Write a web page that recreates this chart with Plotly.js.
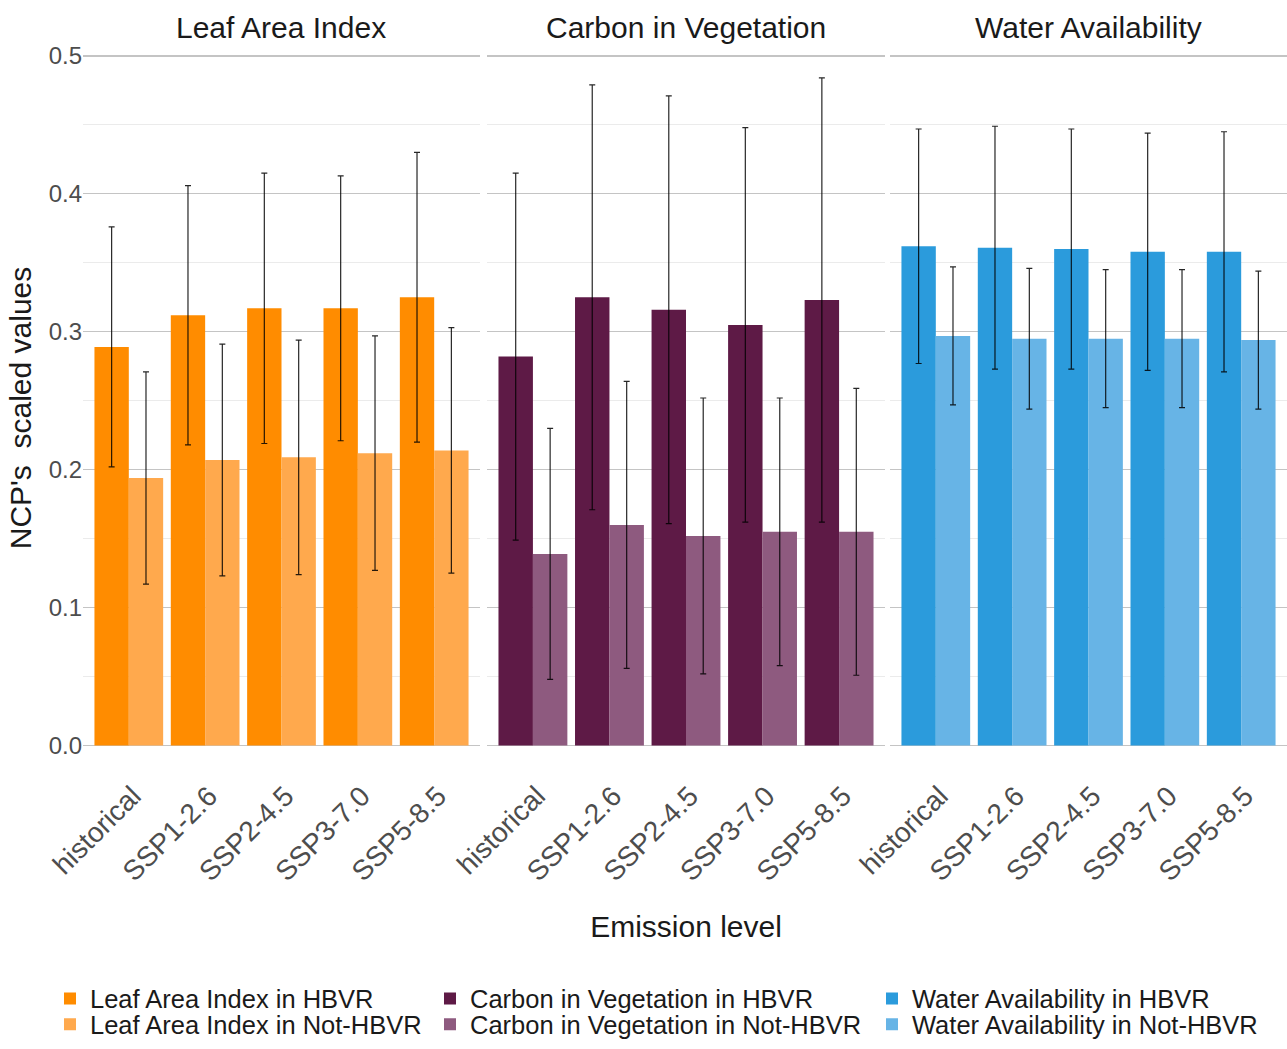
<!DOCTYPE html>
<html>
<head>
<meta charset="utf-8">
<script src="https://cdn.plot.ly/plotly-3.0.1.min.js"></script>
<style>html,body{margin:0;padding:0;background:#fff;}</style>
</head>
<body>
<div id="chart" style="width:1287px;height:1049px;"></div>
<script>
const categories = ['historical', 'SSP1-2.6', 'SSP2-4.5', 'SSP3-7.0', 'SSP5-8.5'];
const facetTitles = ['Leaf Area Index', 'Carbon in Vegetation', 'Water Availability'];

const laiHBVR = [0.289, 0.312, 0.317, 0.317, 0.325];
const laiHBVRsd = [0.087, 0.094, 0.098, 0.096, 0.105];
const laiNot = [0.194, 0.207, 0.209, 0.212, 0.214];
const laiNotSd = [0.077, 0.084, 0.085, 0.085, 0.089];

const cvHBVR = [0.282, 0.325, 0.316, 0.305, 0.323];
const cvHBVRsd = [0.133, 0.154, 0.155, 0.143, 0.161];
const cvNot = [0.139, 0.160, 0.152, 0.155, 0.155];
const cvNotSd = [0.091, 0.104, 0.100, 0.097, 0.104];

const waHBVR = [0.362, 0.361, 0.360, 0.358, 0.358];
const waHBVRsd = [0.085, 0.088, 0.087, 0.086, 0.087];
const waNot = [0.297, 0.295, 0.295, 0.295, 0.294];
const waNotSd = [0.050, 0.051, 0.050, 0.050, 0.050];

const FONT = 'Liberation Sans, Arial, sans-serif';

const W = 1287, H = 1049;
const ml = 83, mt = 48.6, mb = 276;
const pw = W - ml, ph = H - mt - mb;
function px2x(p) { return (p - ml) / pw; }
function px2y(p) { return (H - mb - p) / ph; }
function dom(a, b) { return [px2x(a), px2x(b)]; }

function bar(name, y, sd, color, xa, leg) {
  return {
    type: 'bar', name: name, x: categories, y: y,
    xaxis: xa, yaxis: 'y', legend: leg,
    marker: {color: color, line: {width: 0}},
    error_y: {type: 'data', array: sd, visible: true, color: 'rgba(0,0,0,0.85)', thickness: 1.2, width: 3},
    hoverinfo: 'x+y'
  };
}

const data = [
  bar('Leaf Area Index in HBVR', laiHBVR, laiHBVRsd, '#FF8C00', 'x', 'legend'),
  bar('Leaf Area Index in Not-HBVR', laiNot, laiNotSd, '#FFA94D', 'x', 'legend2'),
  bar('Carbon in Vegetation in HBVR', cvHBVR, cvHBVRsd, '#5E1A46', 'x2', 'legend3'),
  bar('Carbon in Vegetation in Not-HBVR', cvNot, cvNotSd, '#8E5A7F', 'x2', 'legend4'),
  bar('Water Availability in HBVR', waHBVR, waHBVRsd, '#2B9BDC', 'x3', 'legend5'),
  bar('Water Availability in Not-HBVR', waNot, waNotSd, '#67B4E6', 'x3', 'legend6')
];

const xCommon = {
  type: 'category', range: [-0.6, 4.6], showgrid: false, zeroline: false, showline: false,
  ticks: '', tickangle: -45, tickfont: {family: FONT, size: 28, color: '#4d4d4d'},
  ticklabelstandoff: 6, ticklabelshift: 4,
  automargin: false, fixedrange: true
};

function legendAt(xpx, ypx) {
  return {
    orientation: 'v', x: px2x(xpx), xanchor: 'left', y: px2y(ypx), yanchor: 'middle',
    font: {family: FONT, size: 25.5, color: '#1a1a1a'}, bgcolor: 'rgba(0,0,0,0)',
    borderwidth: 0, itemclick: false, itemdoubleclick: false
  };
}

const layout = {
  width: W, height: H,
  margin: {l: ml, r: 0, t: mt, b: mb},
  paper_bgcolor: '#fff', plot_bgcolor: '#fff',
  barmode: 'group', bargap: 0.1, bargroupgap: 0,
  font: {family: FONT},
  xaxis: Object.assign({}, xCommon, {domain: dom(83, 480), anchor: 'y'}),
  xaxis2: Object.assign({}, xCommon, {domain: dom(487, 885), anchor: 'y',
    title: {text: 'Emission level', font: {family: FONT, size: 30, color: '#1a1a1a'}, standoff: 30}}),
  xaxis3: Object.assign({}, xCommon, {domain: dom(890, 1287), anchor: 'y'}),
  yaxis: {
    domain: [0, 1], range: [-0.0155, 0.505], anchor: 'x', automargin: false,
    tickvals: [0, 0.1, 0.2, 0.3, 0.4, 0.5], ticktext: ['0.0', '0.1', '0.2', '0.3', '0.4', '0.5'],
    showgrid: true, gridcolor: '#c4c4c4', gridwidth: 1.2, zeroline: false, showline: false, ticks: '',
    minor: {tickvals: [0.05, 0.15, 0.25, 0.35, 0.45], showgrid: true, gridcolor: '#ebebeb', gridwidth: 1},
    tickfont: {family: FONT, size: 24, color: '#4d4d4d'},
    title: {text: "NCP's  scaled values", font: {family: FONT, size: 30, color: '#1a1a1a'}, standoff: 8},
    fixedrange: true
  },
  showlegend: true,
  legend: legendAt(50, 1007),
  legend2: legendAt(50, 1033),
  legend3: legendAt(430, 1007),
  legend4: legendAt(430, 1033),
  legend5: legendAt(872, 1007),
  legend6: legendAt(872, 1033),
  annotations: [
    {text: facetTitles[0], x: px2x(281), y: px2y(27)},
    {text: facetTitles[1], x: px2x(686), y: px2y(27)},
    {text: facetTitles[2], x: px2x(1088), y: px2y(27)}
  ].map(a => Object.assign(a, {xref: 'paper', yref: 'paper', showarrow: false, xanchor: 'center', yanchor: 'middle',
    font: {family: FONT, size: 30, color: '#1a1a1a'}}))
};

Plotly.newPlot('chart', data, layout, {displayModeBar: false, staticPlot: true});
</script>
</body>
</html>
